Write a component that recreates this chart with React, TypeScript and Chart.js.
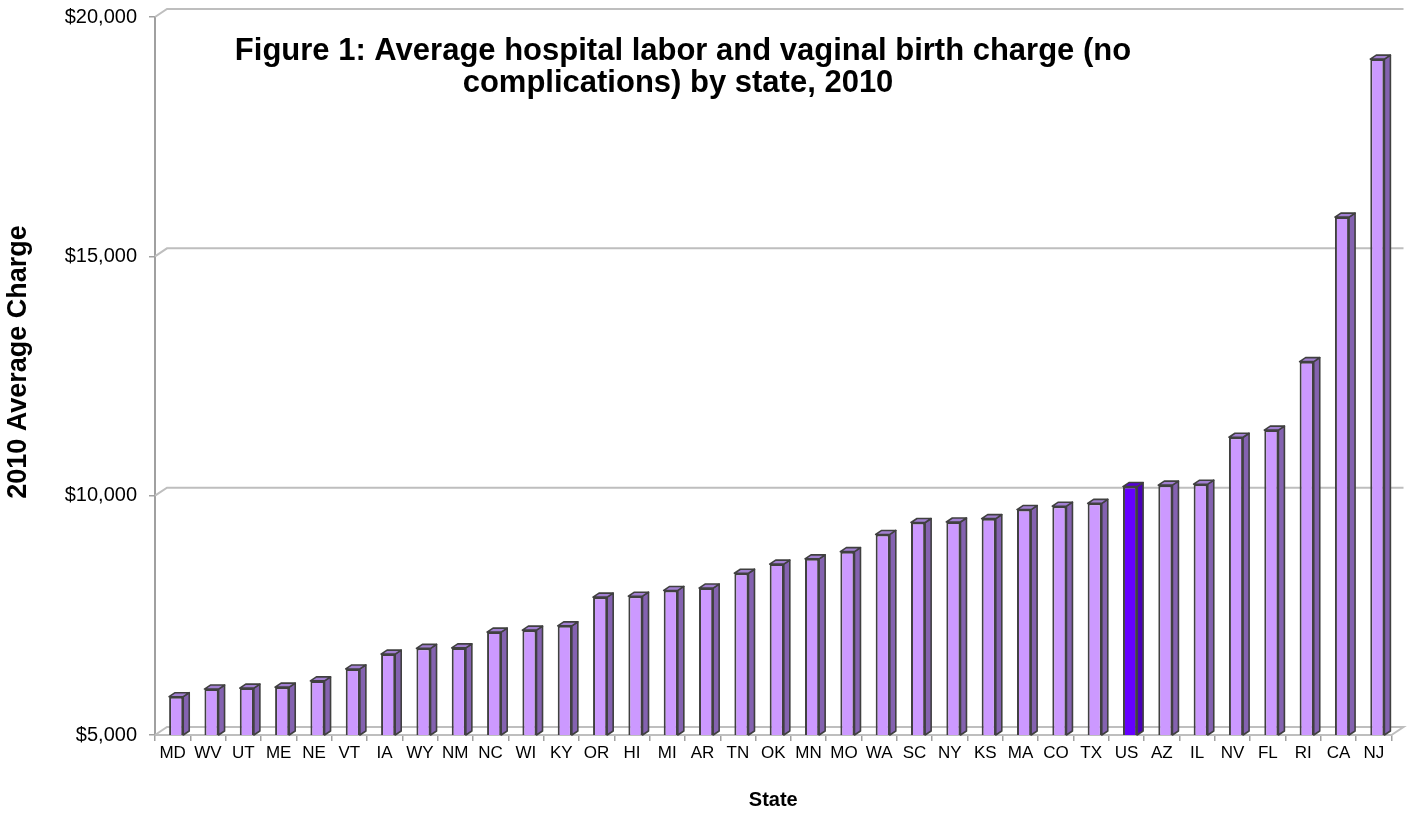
import { useEffect, useRef } from "react";
import { Chart, registerables } from "chart.js";

Chart.register(...registerables);

const states = ["MD","WV","UT","ME","NE","VT","IA","WY","NM","NC","WI","KY","OR","HI","MI","AR","TN","OK","MN","MO","WA","SC","NY","KS","MA","CO","TX","US","AZ","IL","NV","FL","RI","CA","NJ"];
const charges = [5800,5960,5980,6000,6130,6380,6690,6810,6820,7150,7190,7280,7880,7900,8020,8070,8380,8570,8680,8830,9190,9440,9450,9520,9710,9780,9840,10190,10220,10240,11220,11370,12800,15820,19120];
const highlightState = "US";
const yMin = 5000;
const yMax = 20000;
const yStep = 5000;
const titleLines = ["Figure 1: Average hospital labor and vaginal birth charge (no", "complications) by state, 2010"];
const yTitle = "2010 Average Charge";
const xTitle = "State";

const FONT = "'Liberation Sans', Arial, sans-serif";
const WALL_DX = 12;
const WALL_DY = -8;
const BAR_DX = 6;
const BAR_DY = -4;
const BAR_SHIFT = 3.5;
const GRID_COLOR = "#BEBEBE";
const AXIS_COLOR = "#A0A0A0";
const EDGE = "#404040";

const front = (s: string) => (s === highlightState ? "#6600FF" : "#CC99FF");
const side = (s: string) => (s === highlightState ? "#4A00B8" : "#8462B0");
const top = (s: string) => (s === highlightState ? "#5500D8" : "#A27FD2");

const threeD = {
  id: "threeD",
  beforeDatasetsDraw(chart: any) {
    const { ctx, chartArea } = chart;
    const ys = chart.scales.y;
    ctx.save();
    ctx.strokeStyle = GRID_COLOR;
    ctx.lineWidth = 2;
    for (let v = yMin; v <= yMax; v += yStep) {
      const yy = ys.getPixelForValue(v);
      ctx.beginPath();
      ctx.moveTo(chartArea.left, yy);
      ctx.lineTo(chartArea.left + WALL_DX, yy + WALL_DY);
      ctx.lineTo(chartArea.right + WALL_DX, yy + WALL_DY);
      if (v === yMin) ctx.lineTo(chartArea.right, yy);
      ctx.stroke();
    }
    ctx.restore();
    ctx.save();
    ctx.translate(BAR_SHIFT, 0);
  },
  afterDatasetsDraw(chart: any) {
    const { ctx, chartArea } = chart;
    const meta = chart.getDatasetMeta(0);
    meta.data.forEach((bar: any, i: number) => {
      const s = states[i];
      const l = bar.x - bar.width / 2;
      const r = bar.x + bar.width / 2;
      const t = bar.y;
      const b = Math.min(bar.base, chartArea.bottom);
      ctx.lineWidth = 1.6;
      ctx.strokeStyle = EDGE;
      ctx.lineJoin = "round";
      ctx.beginPath();
      ctx.moveTo(r, t);
      ctx.lineTo(r + BAR_DX, t + BAR_DY);
      ctx.lineTo(r + BAR_DX, b + BAR_DY);
      ctx.lineTo(r, b);
      ctx.closePath();
      ctx.fillStyle = side(s);
      ctx.fill();
      ctx.stroke();
      ctx.beginPath();
      ctx.moveTo(l, t);
      ctx.lineTo(l + BAR_DX, t + BAR_DY);
      ctx.lineTo(r + BAR_DX, t + BAR_DY);
      ctx.lineTo(r, t);
      ctx.closePath();
      ctx.fillStyle = top(s);
      ctx.fill();
      ctx.stroke();
    });
    ctx.restore();
  },
  afterDraw(chart: any) {
    const { ctx, chartArea } = chart;
    ctx.save();
    ctx.fillStyle = "#000";
    ctx.textAlign = "center";
    ctx.textBaseline = "middle";
    ctx.font = `bold 31px ${FONT}`;
    ctx.fillText(titleLines[0], 683, 51);
    ctx.fillText(titleLines[1], 678, 83);
    ctx.font = `bold 20px ${FONT}`;
    ctx.fillText(xTitle, (chartArea.left + chartArea.right) / 2, 800);
    ctx.font = `bold 27px ${FONT}`;
    ctx.translate(19, 362);
    ctx.rotate(-Math.PI / 2);
    ctx.fillText(yTitle, 0, 0);
    ctx.restore();
  },
};

export default function App() {
  const ref = useRef<HTMLCanvasElement>(null);
  useEffect(() => {
    document.body.style.margin = "0";
    const chart = new Chart(ref.current!, {
      type: "bar",
      data: {
        labels: states,
        datasets: [
          {
            data: charges,
            backgroundColor: states.map(front),
            borderColor: EDGE,
            borderWidth: 2,
            barPercentage: 0.4,
            categoryPercentage: 1,
          },
        ],
      },
      options: {
        animation: false,
        responsive: true,
        maintainAspectRatio: false,
        layout: { padding: { top: 17, right: 19.5, left: 0, bottom: 0 } },
        plugins: { legend: { display: false }, tooltip: { enabled: false }, title: { display: false } },
        scales: {
          x: {
            afterFit: (s: any) => { s.height = 84; s.paddingLeft = 0; s.paddingRight = 0; },
            grid: { color: "transparent", tickColor: AXIS_COLOR, tickLength: 6, offset: true, lineWidth: 1.5 },
            border: { display: true, color: GRID_COLOR, width: 2 },
            ticks: { color: "#000", font: { family: FONT, size: 17 }, padding: 2, maxRotation: 0, autoSkip: false },
          },
          y: {
            min: yMin,
            max: yMax,
            afterFit: (s: any) => { s.width = 155; s.paddingTop = 0; s.paddingBottom = 0; },
            grid: { color: "transparent", tickColor: AXIS_COLOR, tickLength: 6, lineWidth: 1.5 },
            border: { display: true, color: AXIS_COLOR, width: 2 },
            ticks: {
              stepSize: yStep,
              color: "#000",
              font: { family: FONT, size: 20 },
              padding: 12,
              callback: (v: any) => "$" + Number(v).toLocaleString("en-US"),
            },
          },
        },
      },
      plugins: [threeD],
    });
    return () => chart.destroy();
  }, []);
  return (
    <div style={{ width: 1411, height: 819, position: "relative", overflow: "hidden" }}>
      <canvas ref={ref} />
    </div>
  );
}
